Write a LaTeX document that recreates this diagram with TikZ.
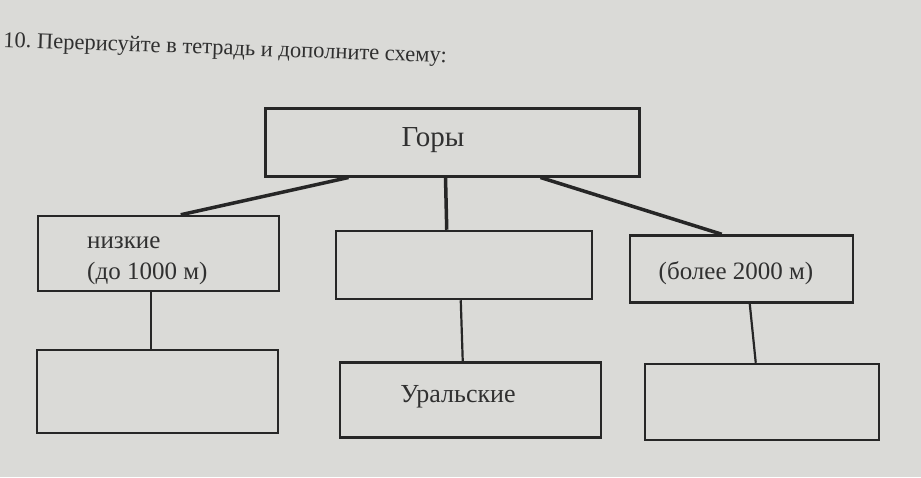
\documentclass[tikz,border=0pt]{standalone}
\usepackage{fontspec}
\setmainfont{Liberation Serif}
\usetikzlibrary{calc}
\definecolor{paper}{RGB}{218,218,215}
\definecolor{ink}{RGB}{38,38,38}
\definecolor{txt}{RGB}{48,48,48}
\tikzset{
  box/.style={draw=ink, line width=2.5pt, rectangle, inner sep=0pt},
  topbox/.style={box, line width=3pt},
  lbl/.style={text=txt, inner sep=0pt, font=\fontsize{25}{31}\selectfont},
  thick conn/.style={draw=ink, line width=3.5pt},
  thin conn/.style={draw=ink, line width=2.2pt}
}
\begin{document}
\frenchspacing
\begin{tikzpicture}[x=1pt,y=-1pt]
\fill[paper] (0,0) rectangle (921,477);
\useasboundingbox (0,0) rectangle (921,477);

\node[text=txt, inner sep=0pt, anchor=base west, rotate=-2,
      font=\fontsize{22.5}{26}\selectfont] (title) at (3,47)
  {10. Перерисуйте в тетрадь и дополните схему:};

% boxes
\node[topbox, minimum width=374pt, minimum height=68pt] (top) at (452,142) {};
\node[box, minimum width=241pt, minimum height=75pt] (b1) at (158.5,253.5) {};
\node[box, minimum width=256pt, minimum height=68pt] (b2) at (464,265) {};
\node[box, minimum width=223pt, minimum height=67pt] (b3) at (741.5,269) {};
\node[box, minimum width=241pt, minimum height=83pt] (b4) at (157.5,391.5) {};
\node[box, minimum width=261pt, minimum height=75pt] (b5) at (470.5,400) {};
\node[box, minimum width=234pt, minimum height=76pt] (b6) at (762,402) {};

% texts
\node[lbl, anchor=base, font=\fontsize{29}{31}\selectfont] (tgory) at (433,146) {Горы};
\node[lbl, anchor=base west] (tlow1) at (87,248) {низкие};
\node[lbl, anchor=base west] (tlow2) at (87,279) {(до 1000 м)};
\node[lbl, anchor=base] (thigh) at (736,279) {(более 2000 м)};
\node[lbl, anchor=base, font=\fontsize{26}{31}\selectfont] (tural) at (458,402) {Уральские};

% connectors
\coordinate (c1a) at ($(top.south west)+(85,0)$);
\coordinate (c1b) at ($(b1.north west)+(144,0)$);
\coordinate (c2a) at ($(top.south west)+(182,0)$);
\coordinate (c2b) at ($(b2.north west)+(112,0)$);
\coordinate (c3a) at ($(top.south west)+(277,0)$);
\coordinate (c3b) at ($(b3.north west)+(93,0)$);
\coordinate (c4a) at ($(b1.south west)+(114,0)$);
\coordinate (c4b) at ($(b4.north west)+(115,0)$);
\coordinate (c5a) at ($(b2.south west)+(126,0)$);
\coordinate (c5b) at ($(b5.north west)+(124,0)$);
\coordinate (c6a) at ($(b3.south west)+(121,0)$);
\coordinate (c6b) at ($(b6.north west)+(112,0)$);

\draw[thick conn] (c1a) -- (c1b);
\draw[thick conn] (c2a) -- (c2b);
\draw[thick conn] (c3a) -- (c3b);
\draw[thin conn] (c4a) -- (c4b);
\draw[thin conn] (c5a) -- (c5b);
\draw[thin conn] (c6a) -- (c6b);
\end{tikzpicture}
\end{document}
